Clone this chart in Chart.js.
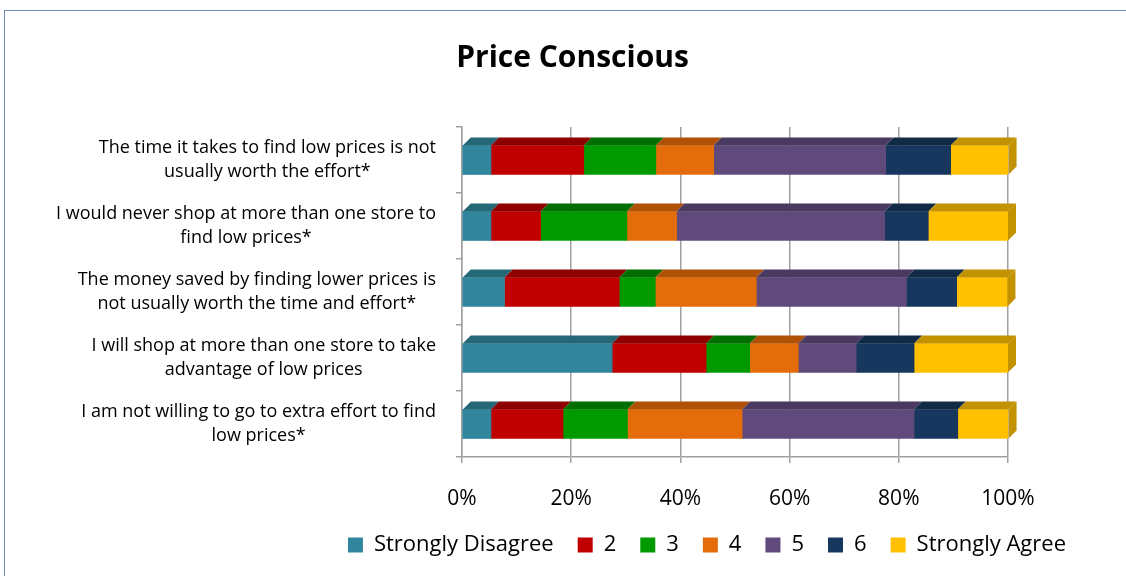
<!DOCTYPE html>
<html>
<head>
<meta charset="utf-8">
<script src="https://cdn.jsdelivr.net/npm/chart.js@4"></script>
<style>
  html, body { margin: 0; padding: 0; background: #fff; }
  #wrap { position: relative; width: 1126px; height: 576px; }
  #frame { position: absolute; left: 4px; top: 10px; right: 0; bottom: 0;
           border-top: 1.5px solid #6f8bb3; border-left: 1.5px solid #6f8bb3; }
  canvas { position: absolute; left: 0; top: 0; }
</style>
</head>
<body>
<div id="wrap">
  <div id="frame"></div>
  <canvas id="chart" width="1126" height="576"></canvas>
</div>
<script>
const categories = [
    ['The time it takes to find low prices is not', 'usually worth the effort*'],
    ['I would never shop at more than one store to', 'find low prices*'],
    ['The money saved by finding lower prices is', 'not usually worth the time and effort*'],
    ['I will shop at more than one store to take', 'advantage of low prices'],
    ['I am not willing to go to extra effort to find', 'low prices*']
];
const seriesNames = ['Strongly Disagree', '2', '3', '4', '5', '6', 'Strongly Agree'];
const stronglyDisagree = [5.3, 5.3, 7.8, 27.5, 5.3];
const rating2 = [17.0, 9.1, 21.0, 17.2, 13.2];
const rating3 = [13.2, 15.8, 6.6, 8.0, 11.8];
const rating4 = [10.6, 9.1, 18.5, 8.9, 21.0];
const rating5 = [31.5, 38.1, 27.5, 10.6, 31.5];
const rating6 = [11.9, 8.0, 9.2, 10.6, 8.0];
const stronglyAgree = [10.6, 14.6, 9.3, 17.2, 9.3];
const xTicks = [0, 20, 40, 60, 80, 100];

const colors = ['#31859C', '#C00000', '#009A00', '#E46C0A', '#604A7B', '#17375E', '#FFC000'];
const topColors = ['#256878', '#8E0000', '#006E00', '#AF5208', '#4A3960', '#112A46', '#C39200'];
const FONT = '"Open Sans", "DejaVu Sans", sans-serif';

const values = [stronglyDisagree, rating2, rating3, rating4, rating5, rating6, stronglyAgree];

// fake 3D: top faces of every bar plus the right face of the last segment
const depth3d = {
    id: 'depth3d',
    afterDatasetsDraw(chart) {
        const ctx = chart.ctx;
        const d = 8;
        const n = chart.data.datasets.length;
        ctx.save();
        chart.data.datasets.forEach((ds, i) => {
            chart.getDatasetMeta(i).data.forEach(bar => {
                const top = bar.y - bar.height / 2;
                const bottom = bar.y + bar.height / 2;
                ctx.fillStyle = topColors[i];
                ctx.beginPath();
                ctx.moveTo(bar.base, top);
                ctx.lineTo(bar.base + d, top - d);
                ctx.lineTo(bar.x + d, top - d);
                ctx.lineTo(bar.x, top);
                ctx.closePath();
                ctx.fill();
                if (i === n - 1) {
                    ctx.beginPath();
                    ctx.moveTo(bar.x, top);
                    ctx.lineTo(bar.x + d, top - d);
                    ctx.lineTo(bar.x + d, bottom - d);
                    ctx.lineTo(bar.x, bottom);
                    ctx.closePath();
                    ctx.fill();
                }
            });
        });
        ctx.restore();
    }
};

// category labels: lines centred on each other, block right aligned
const yLabels = {
    id: 'yLabels',
    afterDraw(chart) {
        const ctx = chart.ctx;
        const scale = chart.scales.y;
        const right = chart.chartArea.left - 26;
        const lineH = 24;
        ctx.save();
        ctx.font = '18px ' + FONT;
        ctx.fillStyle = '#000';
        ctx.textAlign = 'center';
        ctx.textBaseline = 'middle';
        categories.forEach((lines, i) => {
            const y = scale.getPixelForTick(i);
            const w = Math.max(...lines.map(l => ctx.measureText(l).width));
            const cx = right - w / 2;
            lines.forEach((l, j) => {
                ctx.fillText(l, cx, y + (j - (lines.length - 1) / 2) * lineH);
            });
        });
        ctx.restore();
    }
};

new Chart(document.getElementById('chart'), {
    type: 'bar',
    data: {
        labels: categories,
        datasets: seriesNames.map((name, i) => ({
            label: name,
            data: values[i],
            backgroundColor: colors[i],
            borderWidth: 0,
            barThickness: 29
        }))
    },
    options: {
        indexAxis: 'y',
        responsive: false,
        animation: false,
        layout: { padding: { top: 30, right: 36, bottom: 10, left: 55 } },
        scales: {
            x: {
                stacked: true,
                min: 0,
                max: 100,
                afterBuildTicks: (s) => { s.ticks = xTicks.map(v => ({ value: v })); },
                afterFit: (s) => { s.height = 53; },
                ticks: {
                    callback: (v) => v + '%',
                    color: '#000',
                    font: { family: FONT, size: 21 },
                    padding: 23
                },
                grid: { color: '#a0a0a0', lineWidth: 1.5, tickLength: 6 },
                border: { color: '#a0a0a0', width: 1.5 }
            },
            y: {
                stacked: true,
                afterFit: (s) => { s.width = 407; },
                ticks: { color: 'rgba(0,0,0,0)', font: { family: FONT, size: 16 } },
                grid: { offset: true, drawOnChartArea: false, color: '#a0a0a0', lineWidth: 1.5, tickLength: 6 },
                border: { color: '#a0a0a0', width: 1.5 }
            },
            yPad: {
                axis: 'y',
                type: 'linear',
                position: 'right',
                afterFit: (s) => { s.width = 82; },
                ticks: { display: false },
                grid: { display: false },
                border: { display: false }
            }
        },
        plugins: {
            title: {
                display: true,
                text: 'Price Conscious',
                color: '#000',
                font: { family: FONT, size: 30, weight: 'bold' },
                padding: { top: 10, bottom: 51 }
            },
            legend: {
                position: 'bottom',
                align: 'end',
                labels: {
                    color: '#000',
                    font: { family: FONT, size: 22, lineHeight: 1 },
                    boxWidth: 15,
                    boxHeight: 15,
                    padding: 24
                }
            },
            tooltip: { enabled: false }
        }
    },
    plugins: [depth3d, yLabels]
});
</script>
</body>
</html>
